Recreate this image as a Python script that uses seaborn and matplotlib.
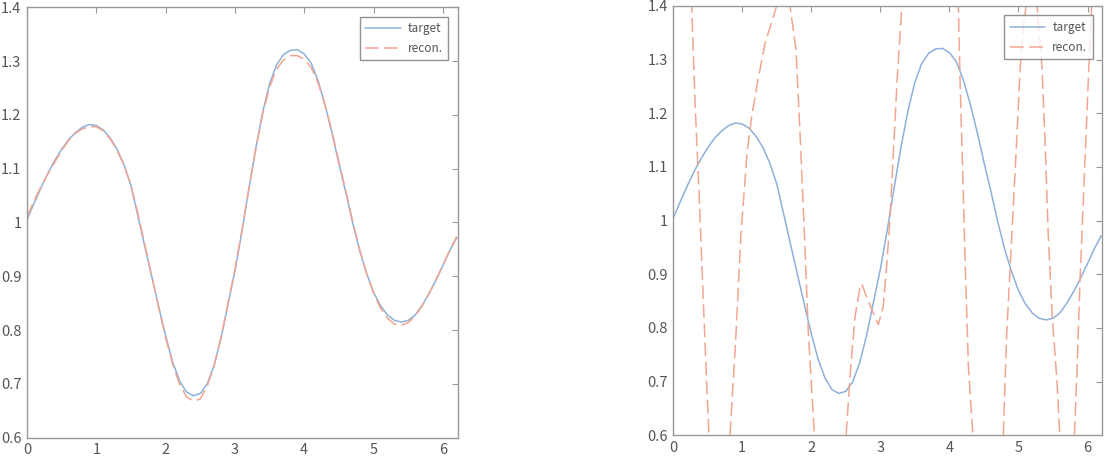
import numpy as np
import matplotlib
matplotlib.use("Agg")
import matplotlib.pyplot as plt
import seaborn as sns
from matplotlib.ticker import FuncFormatter

# x grid used by target and the good reconstruction
x_grid = [0.0, 0.1, 0.2, 0.3, 0.4, 0.5, 0.6, 0.7, 0.8, 0.9,
          1.0, 1.1, 1.2, 1.3, 1.4, 1.5, 1.6, 1.7, 1.8, 1.9,
          2.0, 2.1, 2.2, 2.3, 2.4, 2.5, 2.6, 2.7, 2.8, 2.9,
          3.0, 3.1, 3.2, 3.3, 3.4, 3.5, 3.6, 3.7, 3.8, 3.9,
          4.0, 4.1, 4.2, 4.3, 4.4, 4.5, 4.6, 4.7, 4.8, 4.9,
          5.0, 5.1, 5.2, 5.3, 5.4, 5.5, 5.6, 5.7, 5.8, 5.9,
          6.0, 6.1, 6.2]

target = [1.005, 1.035, 1.064, 1.091, 1.115, 1.136, 1.154, 1.167, 1.177, 1.182,
          1.180, 1.172, 1.157, 1.136, 1.107, 1.068, 1.012, 0.955, 0.899, 0.843,
          0.789, 0.741, 0.706, 0.685, 0.678, 0.682, 0.700, 0.735, 0.786, 0.848,
          0.910, 0.983, 1.062, 1.138, 1.205, 1.258, 1.293, 1.312, 1.320, 1.321,
          1.313, 1.296, 1.263, 1.218, 1.166, 1.109, 1.055, 0.998, 0.947, 0.905,
          0.870, 0.845, 0.828, 0.818, 0.815, 0.818, 0.828, 0.846, 0.868, 0.893,
          0.920, 0.948, 0.972]

recon_left = [1.010, 1.040, 1.066, 1.090, 1.112, 1.134, 1.152, 1.166, 1.174, 1.178,
              1.178, 1.170, 1.155, 1.134, 1.106, 1.069, 1.016, 0.958, 0.900, 0.842,
              0.786, 0.737, 0.700, 0.676, 0.668, 0.672, 0.696, 0.734, 0.787, 0.850,
              0.913, 0.985, 1.063, 1.137, 1.202, 1.252, 1.285, 1.302, 1.310, 1.310,
              1.303, 1.288, 1.259, 1.218, 1.168, 1.112, 1.058, 1.001, 0.949, 0.905,
              0.868, 0.841, 0.822, 0.811, 0.809, 0.814, 0.826, 0.845, 0.868, 0.894,
              0.921, 0.949, 0.974]

# the bad reconstruction (goes far outside the y range)
recon_right_x = [0.00, 0.10, 0.20, 0.267, 0.314, 0.377, 0.435, 0.484, 0.517, 0.60,
                 0.67, 0.75, 0.822, 0.909, 0.981, 1.073, 1.136, 1.218, 1.329, 1.498,
                 1.59, 1.691, 1.778, 1.836, 1.899, 1.957, 2.044, 2.15, 2.27, 2.40,
                 2.503, 2.571, 2.633, 2.706, 2.73, 2.80, 2.875, 2.97, 3.04, 3.09,
                 3.14, 3.19, 3.24, 3.31, 3.50, 3.72, 3.95, 4.13, 4.155, 4.19,
                 4.23, 4.275, 4.34, 4.45, 4.56, 4.67, 4.78, 4.83, 4.88, 4.93,
                 4.98, 5.02, 5.07, 5.11, 5.19, 5.27, 5.34, 5.39, 5.43, 5.49,
                 5.56, 5.60, 5.66, 5.71, 5.76, 5.81, 5.85, 5.89, 5.94, 5.99,
                 6.03, 6.06, 6.14, 6.21]
recon_right_y = [1.95, 1.90, 1.66, 1.40, 1.225, 1.04, 0.852, 0.697, 0.60, 0.40,
                 0.34, 0.42, 0.60, 0.79, 0.977, 1.132, 1.194, 1.256, 1.33, 1.40,
                 1.43, 1.40, 1.318, 1.163, 0.977, 0.79, 0.60, 0.42, 0.37, 0.45,
                 0.60, 0.728, 0.821, 0.877, 0.882, 0.858, 0.834, 0.806, 0.84, 0.914,
                 1.007, 1.132, 1.256, 1.40, 1.85, 2.00, 1.85, 1.40, 1.256, 1.10,
                 0.914, 0.728, 0.598, 0.35, 0.28, 0.36, 0.598, 0.79, 0.914, 1.039,
                 1.163, 1.275, 1.36, 1.40, 1.45, 1.40, 1.287, 1.132, 0.977, 0.82,
                 0.697, 0.598, 0.45, 0.42, 0.47, 0.598, 0.728, 0.883, 1.039, 1.194,
                 1.318, 1.40, 1.62, 1.80]

x_max = 6.21
y_ticks = [0.6, 0.7, 0.8, 0.9, 1.0, 1.1, 1.2, 1.3, 1.4]
x_ticks = [0, 1, 2, 3, 4, 5, 6]

c_target = "#8eb0da"
c_recon = "#f2a590"
dash = (0, (9, 3.5))

sns.set_style("white")
plt.rcParams['font.family'] = ['Noto Sans CJK JP', 'DejaVu Sans']

fig = plt.figure(figsize=(11.11, 4.72), dpi=100)
ax1 = fig.add_axes([0.0243, 0.0727, 0.3875, 0.912])
ax2 = fig.add_axes([0.606, 0.0778, 0.3859, 0.9095])


def style_axis(ax):
    ax.set_xlim(0, x_max)
    ax.set_ylim(0.6, 1.4)
    ax.set_xticks(x_ticks)
    ax.set_yticks(y_ticks)
    ax.yaxis.set_major_formatter(FuncFormatter(lambda v, p: "%g" % round(v, 2)))
    ax.tick_params(direction="in", length=4, width=0.8, top=True, right=True,
                   colors="#999999", labelcolor="#555555", labelsize=10.5, pad=4)
    for s in ax.spines.values():
        s.set_color("#999999")
        s.set_linewidth(1.0)
    ax.set_xlabel("")
    ax.set_ylabel("")
    leg = ax.legend(loc="upper right", fontsize=8.5, frameon=True, fancybox=False,
                    handlelength=3.0, handletextpad=0.6, labelspacing=0.6,
                    borderaxespad=0.8, borderpad=0.45)
    leg.get_frame().set_edgecolor("#777777")
    leg.get_frame().set_linewidth(1.0)
    for t in leg.get_texts():
        t.set_color("#555555")


# left: good reconstruction
sns.lineplot(x=x_grid, y=target, ax=ax1, color=c_target, linewidth=1.1,
             label="target", estimator=None, sort=False)
sns.lineplot(x=x_grid, y=recon_left, ax=ax1, color=c_recon, linewidth=1.1,
             linestyle=dash, label="recon.", estimator=None, sort=False)
style_axis(ax1)

# right: bad reconstruction
sns.lineplot(x=x_grid, y=target, ax=ax2, color=c_target, linewidth=1.1,
             label="target", estimator=None, sort=False)
sns.lineplot(x=recon_right_x, y=recon_right_y, ax=ax2, color=c_recon, linewidth=1.1,
             linestyle=dash, label="recon.", estimator=None, sort=False)
style_axis(ax2)

fig.savefig("out.png", dpi=100)
